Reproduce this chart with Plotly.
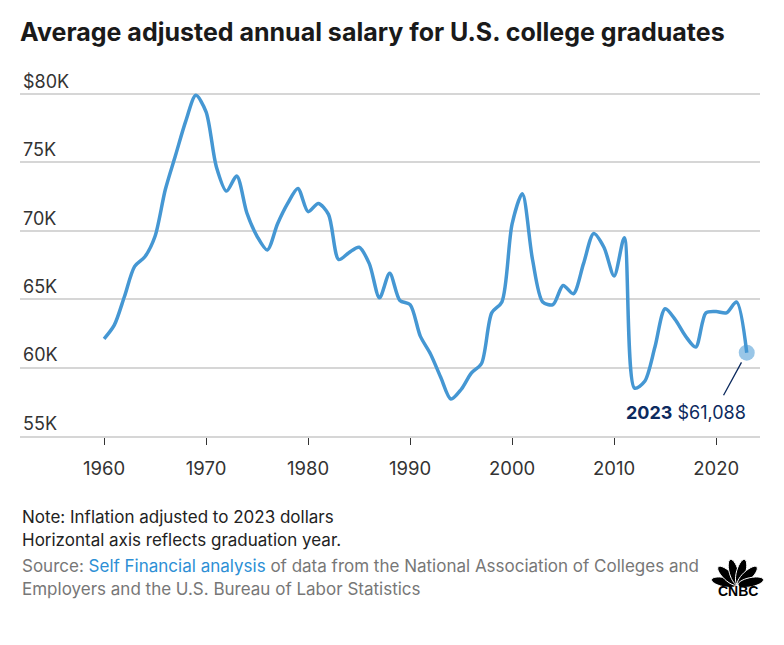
import math
import plotly.graph_objects as go

# ---------------- data ----------------
years = list(range(1960, 2024))
salary_k = [
    62.1, 63.1, 65.2, 67.4, 68.1, 69.6, 73.0, 75.5, 78.0, 79.9,  # 1960-69
    78.7, 74.7, 72.9, 74.0, 71.3, 69.6, 68.6, 70.5, 72.0, 73.1,  # 1970-79
    71.4, 72.0, 71.2, 67.9, 68.4, 68.8, 67.6, 65.1, 66.9, 64.9,  # 1980-89
    64.6, 62.3, 61.0, 59.3, 57.7, 58.4, 59.6, 60.3, 64.0, 64.8,  # 1990-99
    70.5, 72.7, 67.9, 64.8, 64.6, 66.0, 65.4, 67.6, 69.8, 68.8,  # 2000-09
    66.7, 69.5, 58.5, 59.0, 61.5, 64.3, 63.5, 62.3, 61.5, 64.0,  # 2010-19
    64.1, 64.0, 64.8, 61.088,                                     # 2020-23
]
last_year = 2023
last_value_label = "$61,088"

y_tick_vals = [55, 60, 65, 70, 75, 80]
y_tick_text = ["55K", "60K", "65K", "70K", "75K", "$80K"]
x_tick_vals = [1960, 1970, 1980, 1990, 2000, 2010, 2020]
x_tick_text = ["1960", "1970", "1980", "1990", "2000", "2010", "2020"]

title_text = "Average adjusted annual salary for U.S. college graduates"
note1 = "Note: Inflation adjusted to 2023 dollars"
note2 = "Horizontal axis reflects graduation year."
source1 = ("Source: <span style='color:#2d8fd5'>Self Financial analysis</span> "
           "of data from the National Association of Colleges and")
source2 = "Employers and the U.S. Bureau of Labor Statistics"

# ---------------- layout geometry (figure px; page adds 8px body margin) ----------------
W, H = 768, 629
PL, PR, PT, PB = 12, 752, 60, 428
FONT = "Inter"
LINE_COLOR = "#4597d3"
NAVY = "#0c2a5e"


def X(px):
    return (px - PL) / (PR - PL)


def Y(py):
    return (PB - py) / (PB - PT)


fig = go.Figure()
fig.add_trace(go.Scatter(
    x=years, y=salary_k, mode="lines",
    line=dict(color=LINE_COLOR, width=3.5, shape="spline", smoothing=0.8),
    hoverinfo="skip", showlegend=False,
))
fig.add_trace(go.Scatter(
    x=[years[-1]], y=[salary_k[-1]], mode="markers",
    marker=dict(size=16, color="rgba(69,151,211,0.55)"),
    hoverinfo="skip", showlegend=False,
))

annotations = [
    # leader line
    dict(x=years[-1], y=salary_k[-1], xref="x", yref="y", text="",
         showarrow=True, arrowhead=0, arrowwidth=1.3, arrowcolor=NAVY,
         ax=-24, ay=44, standoff=11),
    # value label
    dict(x=years[-1], y=salary_k[-1], xref="x", yref="y",
         text=f"<b>{last_year}</b> {last_value_label}",
         showarrow=False, xanchor="right", yanchor="middle", yshift=-60, xshift=1,
         font=dict(family=FONT, size=18, color=NAVY)),
    dict(x=X(12), y=Y(509), xref="paper", yref="paper", text=note1,
         showarrow=False, xanchor="left", yanchor="middle",
         font=dict(family=FONT, size=17, color="#222222")),
    dict(x=X(12), y=Y(532), xref="paper", yref="paper", text=note2,
         showarrow=False, xanchor="left", yanchor="middle",
         font=dict(family=FONT, size=17, color="#222222")),
    dict(x=X(12), y=Y(558), xref="paper", yref="paper", text=source1,
         showarrow=False, xanchor="left", yanchor="middle",
         font=dict(family=FONT, size=17, color="#777777")),
    dict(x=X(12), y=Y(581), xref="paper", yref="paper", text=source2,
         showarrow=False, xanchor="left", yanchor="middle",
         font=dict(family=FONT, size=17, color="#777777")),
    dict(x=X(729.5), y=Y(583), xref="paper", yref="paper", text="<b>CNBC</b>",
         showarrow=False, xanchor="center", yanchor="middle",
         font=dict(family="Liberation Sans", size=14, color="#000000")),
]

# CNBC peacock (feathers)
shapes = []
cx, cy = 729.5, 577
for i in range(6):
    ang = math.radians(168 - i * 31.2)
    dx, dy = math.cos(ang), -math.sin(ang)
    ecx, ecy = cx + dx * 13.5, cy + dy * 13.5
    a, b = 13, 4.6
    pts = []
    for k in range(28):
        t = 2 * math.pi * k / 28
        u, v = a * math.cos(t), b * math.sin(t)
        px = ecx + u * dx - v * dy
        py = ecy + u * dy + v * dx
        pts.append((X(px), Y(py)))
    path = "M " + " L ".join(f"{p[0]:.5f},{p[1]:.5f}" for p in pts) + " Z"
    shapes.append(dict(type="path", path=path, xref="paper", yref="paper",
                       fillcolor="#000000", line=dict(color="#ffffff", width=1)))

fig.update_layout(
    width=W, height=H,
    margin=dict(l=PL, r=W - PR, t=PT, b=H - PB, pad=0),
    paper_bgcolor="white", plot_bgcolor="white",
    title=dict(text=f"<b>{title_text}</b>", x=12 / W, xanchor="left",
               xref="container", y=1 - 24 / H, yanchor="middle", yref="container",
               font=dict(family=FONT, size=25, color="#1a1a1a")),
    xaxis=dict(range=[1951.76, 2024.3], tickvals=x_tick_vals, ticktext=x_tick_text,
               showgrid=False, zeroline=False, showline=True, linecolor="#d6d6d6",
               linewidth=1.5, ticks="outside", ticklen=7, tickwidth=1.3,
               tickcolor="#333333", ticklabelstandoff=8,
               tickfont=dict(family=FONT, size=18.5, color="#333333")),
    yaxis=dict(range=[55, 81.9], tickvals=y_tick_vals, ticktext=y_tick_text,
               showgrid=True, gridcolor="#d6d6d6", gridwidth=1.5, zeroline=False,
               ticklabelposition="inside top", ticks="",
               tickfont=dict(family=FONT, size=18, color="#333333")),
    annotations=annotations, shapes=shapes,
)

fig.write_html("out.html")
